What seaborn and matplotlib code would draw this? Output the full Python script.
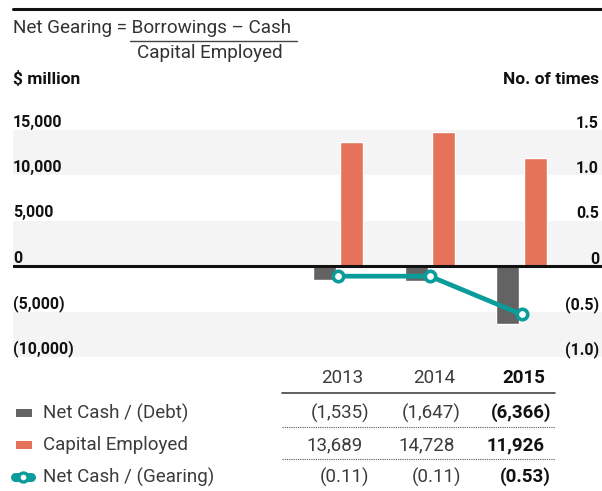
import numpy as np
import pandas as pd
import matplotlib
matplotlib.use("Agg")
import matplotlib.pyplot as plt
import matplotlib.transforms as mtransforms
from matplotlib.lines import Line2D
from matplotlib.patches import Rectangle
import seaborn as sns

# ---- data ----
years = ["2013", "2014", "2015"]
net_cash = [-1535, -1647, -6366]
capital_employed = [13689, 14728, 11926]
gearing = [-0.11, -0.11, -0.53]

left_ticks = [15000, 10000, 5000, 0, -5000, -10000]
left_tick_labels = ["15,000", "10,000", "5,000", "0", "(5,000)", "(10,000)"]
right_ticks = [1.5, 1.0, 0.5, 0, -0.5, -1.0]
right_tick_labels = ["1.5", "1.0", "0.5", "0", "(0.5)", "(1.0)"]

series_names = ["Net Cash / (Debt)", "Capital Employed", "Net Cash / (Gearing)"]

GRAY = "#636363"
ORANGE = "#E5735A"
TEAL = "#0A9B9B"
BAND = "#F4F4F4"
TXT = "#3c3c3c"

sns.set_theme(style="white")
plt.rcParams["font.family"] = ["Roboto", "DejaVu Sans"]

W, H = 602, 491
fig = plt.figure(figsize=(W / 100, H / 100), dpi=100)


def fx(px):
    return px / W


def fy(py):
    return 1 - py / H


# ---- main axes ----
ax_left, ax_right, ax_top, ax_bot = 13, 602, 130, 357
ax = fig.add_axes([fx(ax_left), fy(ax_bot), fx(ax_right - ax_left), (ax_bot - ax_top) / H])
ax.set_facecolor("none")

df = pd.DataFrame({
    "year": years * 2,
    "series": [series_names[0]] * 3 + [series_names[1]] * 3,
    "value": net_cash + capital_employed,
})

# alternating background bands
for lo, hi in [(10000, 15000), (0, 5000), (-10000, -5000)]:
    ax.axhspan(lo, hi, color=BAND, lw=0, zorder=0)

sns.barplot(data=df, x="year", y="value", hue="series",
            palette=[GRAY, ORANGE], width=0.59, gap=0.15,
            saturation=1, legend=False, ax=ax, zorder=2)

ax.axhline(0, color="#111111", lw=2.2, zorder=3)
ax.set_xlim(-3.542, 2.877)
ax.set_ylim(-10000, 15000)
ax.set_xlabel("")
ax.set_ylabel("")
ax.set_xticks([])
ax.set_yticks([])
for s in ax.spines.values():
    s.set_visible(False)

ax2 = ax.twinx()
ax2.set_ylim(-1.0, 1.5)
sns.lineplot(x=[0, 1, 2], y=gearing, ax=ax2, color=TEAL, lw=3.4,
             marker="o", ms=7.5, mfc="white", mec=TEAL, mew=2.6, zorder=5)
ax2.set_yticks([])
ax2.set_ylabel("")
for s in ax2.spines.values():
    s.set_visible(False)

# tick labels sitting just above their gridlines
lab_tr_left = mtransforms.offset_copy(
    mtransforms.blended_transform_factory(ax.transAxes, ax.transData), fig=fig, y=2.5, units="points")
for v, t in zip(left_ticks, left_tick_labels):
    ax.text(0, v, t, transform=lab_tr_left, ha="left", va="baseline",
            fontsize=11.5, fontweight="bold", color="#111111")

lab_tr_right = mtransforms.offset_copy(
    mtransforms.blended_transform_factory(ax2.transAxes, ax2.transData), fig=fig,
    x=-3, y=2.5, units="dots")
for v, t in zip(right_ticks, right_tick_labels):
    ax2.text(1, v, t, transform=lab_tr_right, ha="right", va="baseline",
             fontsize=11.5, fontweight="bold", color="#111111")

# ---- header area ----
fig.add_artist(Line2D([fx(13), fx(602)], [fy(8.5), fy(8.5)], color="#111111", lw=2.2))
fig.text(fx(13), fy(28), "Net Gearing = Borrowings \u2013 Cash", ha="left", va="center",
         fontsize=13.6, color="#333333")
fig.add_artist(Line2D([fx(130), fx(297)], [fy(41), fy(41)], color="#444444", lw=1.0))
fig.text(fx(210), fy(53), "Capital Employed", ha="center", va="center", fontsize=13.6,
         color="#333333")
fig.text(fx(13), fy(79), "$ million", ha="left", va="center", fontsize=12.5,
         fontweight="bold", color="#111111")
fig.text(fx(599), fy(79), "No. of times", ha="right", va="center", fontsize=12.5,
         fontweight="bold", color="#111111")

# ---- data table ----
col_right = [363, 455, 545]
paren_shift = 6


def fmt_int(v):
    s = f"{abs(v):,}"
    return f"({s})" if v < 0 else s


def fmt_ratio(v):
    s = f"{abs(v):.2f}"
    return f"({s})" if v < 0 else s


for i, y in enumerate(years):
    bold = i == len(years) - 1
    fig.text(fx(col_right[i]), fy(378), y, ha="right", va="center", fontsize=13.5,
             fontweight="bold" if bold else "normal", color="#111111" if bold else TXT)

fig.add_artist(Line2D([fx(282), fx(555)], [fy(393), fy(393)], color="#444444", lw=1.2))
for yy in (427, 459):
    fig.add_artist(Line2D([fx(282), fx(555)], [fy(yy), fy(yy)], color="#555555",
                          lw=0.8, linestyle=(0, (1, 1))))

rows = [
    (413, [fmt_int(v) for v in net_cash], [v < 0 for v in net_cash]),
    (445, [fmt_int(v) for v in capital_employed], [v < 0 for v in capital_employed]),
    (477, [fmt_ratio(v) for v in gearing], [v < 0 for v in gearing]),
]
for ry, texts, negs in rows:
    for i, (t, neg) in enumerate(zip(texts, negs)):
        bold = i == len(texts) - 1
        x = col_right[i] + (paren_shift if neg else 0)
        fig.text(fx(x), fy(ry), t, ha="right", va="center", fontsize=13.5,
                 fontweight="bold" if bold else "normal", color="#111111" if bold else TXT)

# legend glyphs and labels
fig.add_artist(Rectangle((fx(16), fy(417)), fx(16), 8 / H, color=GRAY, lw=0))
fig.add_artist(Rectangle((fx(16), fy(449)), fx(16), 8 / H, color=ORANGE, lw=0))
fig.add_artist(Line2D([fx(15), fx(31)], [fy(477), fy(477)], color=TEAL, lw=6.5,
                      solid_capstyle="round"))
fig.add_artist(Line2D([fx(23)], [fy(477)], color=TEAL, marker="o", ms=6.5,
                      mfc="white", mec=TEAL, mew=2.4))
for ry, name in zip((413, 445, 477), series_names):
    fig.text(fx(43), fy(ry), name, ha="left", va="center", fontsize=13.5,
             fontweight="normal", color=TXT)

fig.savefig("out.png", dpi=100)
